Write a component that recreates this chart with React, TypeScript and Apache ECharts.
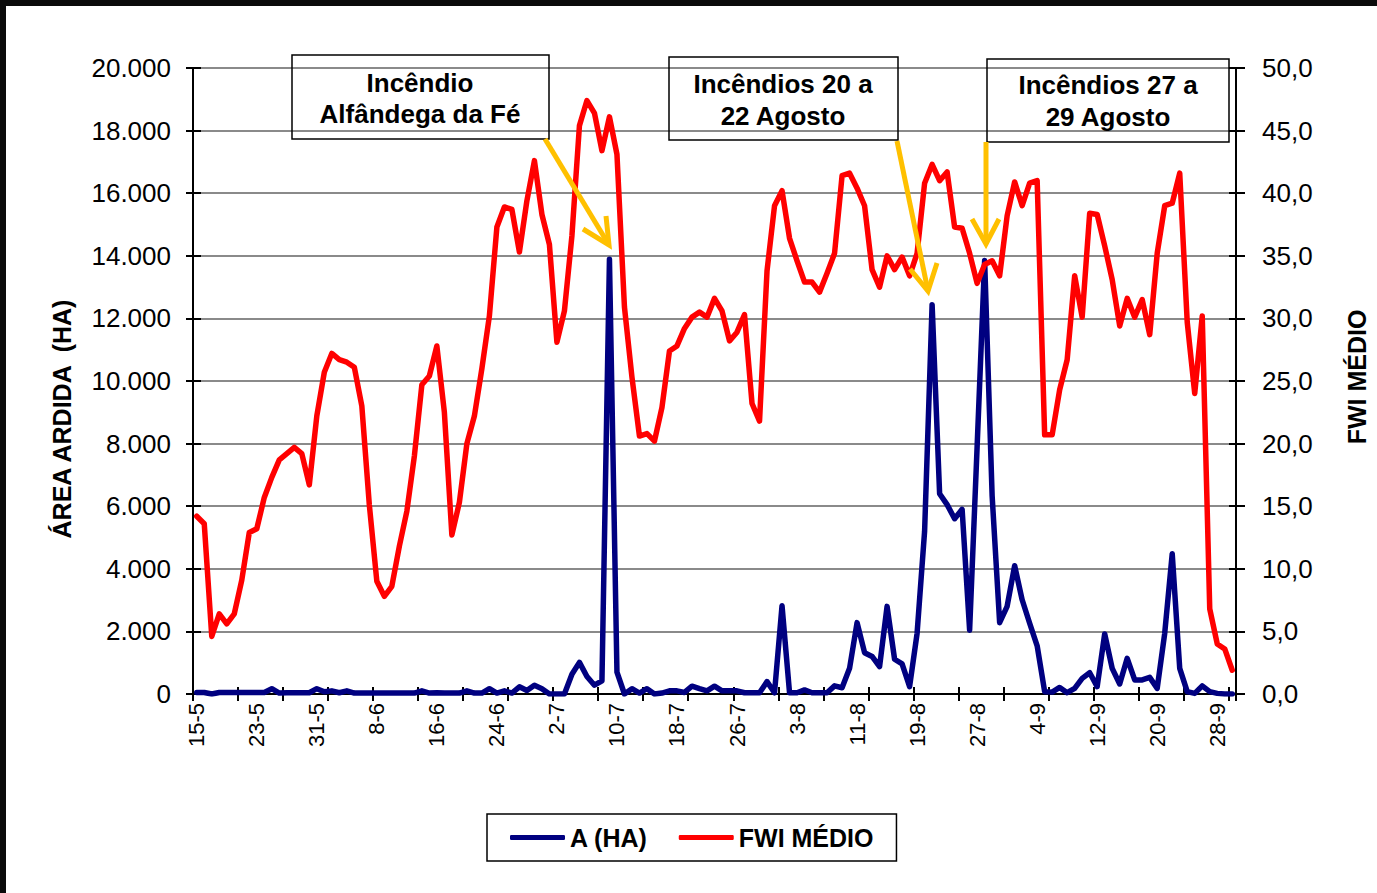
import React, { useEffect, useRef } from "react";
import * as echarts from "echarts";

// month, first day, last day of the daily categories (15 May - 30 Sep)
const monthSpans: number[][] = [
  [5, 15, 31],
  [6, 1, 30],
  [7, 1, 31],
  [8, 1, 31],
  [9, 1, 30],
];
const dates: string[] = [];
monthSpans.forEach(([m, a, b]) => {
  for (let d = a; d <= b; d++) dates.push(`${d}-${m}`);
});

// Burnt area (ha), one value per day
const areaHA: number[] = [
  50, 50, 0, 50, 50, 50, 50, 50, 50, 50,
  170, 30, 40, 40, 40, 40, 170, 70, 100, 40,
  100, 30, 30, 30, 30, 30, 30, 30, 30, 30,
  100, 30, 40, 30, 30, 30, 100, 30, 30, 170,
  30, 100, 30, 230, 110, 280, 170, 0, 0, 0,
  630, 1010, 560, 280, 420, 13890, 700, 0, 170, 30,
  170, 0, 30, 100, 100, 50, 250, 170, 100, 250,
  100, 100, 100, 40, 40, 40, 395, 40, 2820, 40,
  40, 130, 40, 40, 40, 260, 200, 820, 2280, 1320,
  1200, 875, 2800, 1110, 960, 235, 1940, 5200, 12440, 6400,
  6050, 5600, 5900, 2040, 7900, 13850, 6330, 2280, 2800, 4100,
  3010, 2260, 1540, 75, 60, 210, 40, 180, 500, 680,
  235, 1920, 820, 320, 1140, 450, 450, 530, 180, 1940,
  4480, 820, 75, 20, 260, 75, 20, 0, 0,
];

// Mean FWI, one value per day
const fwiMedio: number[] = [
  14.2, 13.6, 4.6, 6.4, 5.6, 6.4, 9.1, 12.9, 13.2, 15.7,
  17.3, 18.7, 19.2, 19.7, 19.2, 16.7, 22.2, 25.7, 27.2, 26.7,
  26.5, 26.1, 23.0, 15.1, 9.0, 7.8, 8.6, 11.8, 14.6, 19.0,
  24.7, 25.4, 27.8, 22.5, 12.7, 15.3, 20.0, 22.2, 26.0, 30.2,
  37.3, 38.9, 38.7, 35.3, 39.4, 42.6, 38.3, 35.9, 28.1, 30.6,
  36.6, 45.4, 47.4, 46.4, 43.4, 46.1, 43.1, 30.9, 25.3, 20.6,
  20.8, 20.2, 22.9, 27.4, 27.8, 29.2, 30.1, 30.5, 30.1, 31.6,
  30.6, 28.2, 28.9, 30.3, 23.2, 21.8, 33.8, 39.0, 40.2, 36.4,
  34.6, 32.9, 32.9, 32.1, 33.6, 35.2, 41.4, 41.6, 40.4, 39.0,
  33.9, 32.5, 35.0, 33.9, 34.9, 33.4, 35.2, 40.8, 42.3, 41.0,
  41.7, 37.3, 37.2, 35.2, 32.8, 34.3, 34.6, 33.4, 38.2, 40.9,
  39.0, 40.8, 41.0, 20.7, 20.7, 24.3, 26.7, 33.4, 30.1, 38.4,
  38.3, 35.8, 33.1, 29.4, 31.6, 30.1, 31.5, 28.7, 35.2, 39.0,
  39.2, 41.6, 29.7, 24.0, 30.2, 6.8, 4.0, 3.6, 1.9,
];

const seriesNames = ["A (HA)", "FWI MÉDIO"];
const annotationTexts = [
  "Incêndio\nAlfândega da Fé",
  "Incêndios 20 a\n22 Agosto",
  "Incêndios 27 a\n29 Agosto",
];
const leftAxisName = "ÁREA ARDIDA  (HA)";
const rightAxisName = "FWI MÉDIO";

const FONT = '"Liberation Sans", Arial, Helvetica, sans-serif';
const GOLD = "#FFC000";

export default function App() {
  const ref = useRef<HTMLDivElement>(null);

  useEffect(() => {
    if (!ref.current) return;
    const chart = echarts.init(ref.current, undefined, { renderer: "svg" });

    const arrow = (x1: number, y1: number, x2: number, y2: number, head: number[][]) => [
      {
        type: "line",
        z: 100,
        shape: { x1, y1, x2, y2 },
        style: { stroke: GOLD, lineWidth: 5 },
      },
      {
        type: "polyline",
        z: 100,
        shape: { points: head },
        style: { stroke: GOLD, lineWidth: 5, fill: "none" },
      },
    ];

    const box = (x: number, y: number, w: number, h: number) => ({
      type: "rect",
      z: 90,
      shape: { x, y, width: w, height: h },
      style: { fill: "none", stroke: "#000", lineWidth: 1.5 },
    });

    const boxText = (x: number, y: number, text: string, lh: number) => ({
      type: "text",
      z: 95,
      x,
      y,
      style: {
        text,
        fontFamily: FONT,
        fontWeight: "bold",
        fontSize: 26,
        lineHeight: lh,
        fill: "#000",
        align: "center",
        verticalAlign: "middle",
      },
    });

    const option: any = {
      animation: false,
      backgroundColor: "#ffffff",
      textStyle: { fontFamily: FONT },
      grid: { left: 193, right: 141, top: 68, bottom: 199, containLabel: false },
      legend: {
        left: 487,
        top: 814,
        orient: "horizontal",
        padding: [11, 23],
        itemGap: 31,
        itemWidth: 55,
        itemHeight: 5,
        icon: "roundRect",
        borderColor: "#000",
        borderWidth: 1.5,
        borderRadius: 0,
        textStyle: { fontFamily: FONT, fontWeight: "bold", fontSize: 25, color: "#000" },
        data: seriesNames,
      },
      xAxis: [
        {
          type: "category",
          data: dates,
          boundaryGap: true,
          position: "bottom",
          axisLine: { show: true, lineStyle: { color: "#000", width: 2 } },
          axisTick: { show: true, interval: 5, length: 7, lineStyle: { color: "#000", width: 2 } },
          axisLabel: {
            interval: 7,
            rotate: 90,
            fontSize: 22,
            margin: 9,
            color: "#000",
            fontFamily: FONT,
          },
          splitLine: { show: false },
        },
        {
          type: "category",
          data: dates,
          boundaryGap: true,
          position: "bottom",
          axisLine: { show: false },
          axisTick: { show: true, inside: true, interval: 5, length: 7, lineStyle: { color: "#000", width: 2 } },
          axisLabel: { show: false },
          splitLine: { show: false },
        },
      ],
      yAxis: [
        {
          type: "value",
          position: "left",
          min: 0,
          max: 20000,
          interval: 2000,
          axisLine: { show: true, lineStyle: { color: "#000", width: 2 } },
          axisTick: { show: true, length: 7, lineStyle: { color: "#000", width: 2 } },
          axisLabel: {
            fontSize: 26,
            margin: 22,
            color: "#000",
            fontFamily: FONT,
            formatter: (v: number) => String(v).replace(/\B(?=(\d{3})+(?!\d))/g, "."),
          },
          splitLine: { show: true, lineStyle: { color: "#8a8a8a", width: 2 } },
        },
        {
          type: "value",
          position: "right",
          min: 0,
          max: 50,
          interval: 5,
          axisLine: { show: true, lineStyle: { color: "#000", width: 2 } },
          axisTick: { show: true, length: 9, lineStyle: { color: "#000", width: 2 } },
          axisLabel: {
            fontSize: 26,
            margin: 26,
            color: "#000",
            fontFamily: FONT,
            formatter: (v: number) => v.toFixed(1).replace(".", ","),
          },
          splitLine: { show: false },
        },
        {
          type: "value",
          position: "left",
          min: 0,
          max: 20000,
          interval: 2000,
          axisLine: { show: false },
          axisTick: { show: true, inside: true, length: 8, lineStyle: { color: "#000", width: 2 } },
          axisLabel: { show: false },
          splitLine: { show: false },
        },
        {
          type: "value",
          position: "right",
          min: 0,
          max: 50,
          interval: 5,
          axisLine: { show: false },
          axisTick: { show: true, inside: true, length: 7, lineStyle: { color: "#000", width: 2 } },
          axisLabel: { show: false },
          splitLine: { show: false },
        },
      ],
      series: [
        {
          name: seriesNames[0],
          type: "line",
          xAxisIndex: 0,
          yAxisIndex: 0,
          data: areaHA,
          symbol: "none",
          showSymbol: false,
          color: "#000080",
          lineStyle: { color: "#000080", width: 5.5, join: "round", cap: "round" },
        },
        {
          name: seriesNames[1],
          type: "line",
          xAxisIndex: 0,
          yAxisIndex: 1,
          data: fwiMedio,
          symbol: "none",
          showSymbol: false,
          color: "#FF0000",
          lineStyle: { color: "#FF0000", width: 5.5, join: "round", cap: "round" },
        },
      ],
      graphic: [
        { type: "rect", z: 200, shape: { x: 0, y: 0, width: 1377, height: 6 }, style: { fill: "#0b0b0b" } },
        { type: "rect", z: 200, shape: { x: 0, y: 0, width: 6, height: 893 }, style: { fill: "#0b0b0b" } },
        {
          type: "text",
          z: 95,
          x: 62,
          y: 419,
          rotation: Math.PI / 2,
          style: {
            text: leftAxisName,
            fontFamily: FONT,
            fontWeight: "bold",
            fontSize: 25,
            fill: "#000",
            align: "center",
            verticalAlign: "middle",
          },
        },
        {
          type: "text",
          z: 95,
          x: 1357,
          y: 377,
          rotation: Math.PI / 2,
          style: {
            text: rightAxisName,
            fontFamily: FONT,
            fontWeight: "bold",
            fontSize: 25,
            fill: "#000",
            align: "center",
            verticalAlign: "middle",
          },
        },
        box(292, 55, 257, 84),
        box(669, 57, 229, 83),
        box(987, 59, 242, 83),
        boxText(420, 98, annotationTexts[0], 31),
        boxText(783, 100, annotationTexts[1], 32),
        boxText(1108, 101, annotationTexts[2], 32),
        ...arrow(545, 139, 609, 245, [[583, 229], [609, 245], [606, 216]]),
        ...arrow(897, 141, 928, 291, [[910, 269], [928, 291], [937, 263]]),
        ...arrow(986, 142, 986, 244, [[972, 219], [986, 244], [999, 219]]),
      ],
    };

    chart.setOption(option);
    return () => chart.dispose();
  }, []);

  return (
    <div
      ref={ref}
      style={{ position: "fixed", left: 0, top: 0, width: 1377, height: 893, background: "#fff" }}
    />
  );
}
